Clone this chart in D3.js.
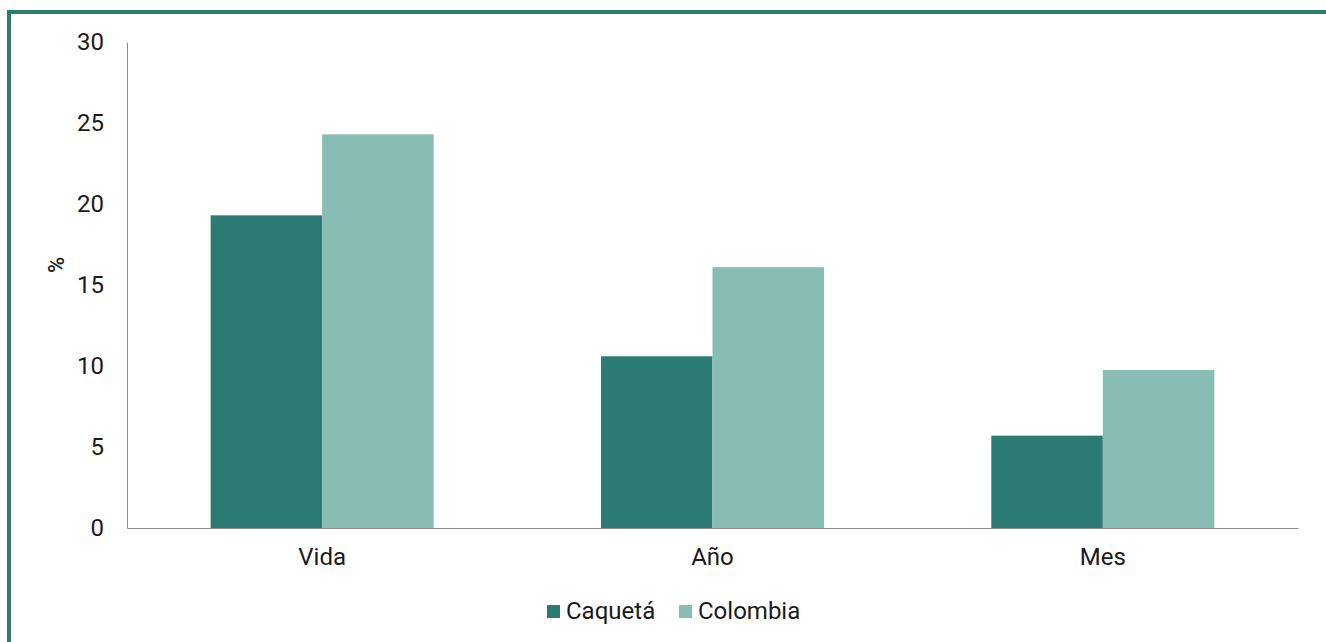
<!DOCTYPE html>
<html lang="es">
<head>
<meta charset="UTF-8">
<title>Caquetá vs Colombia</title>
<script src="https://d3js.org/d3.v7.min.js"></script>
<style>
  body { margin: 0; background: #fff; }
  svg { display: block; font-family: Roboto, "Noto Sans", sans-serif; }
</style>
</head>
<body>
<div id="chart"></div>
<script>
const categories = ["Vida", "Año", "Mes"];
const series = ["Caquetá", "Colombia"];
const caqueta = [19.3, 10.6, 5.7];
const colombia = [24.3, 16.1, 9.75];
const yTicks = [0, 5, 10, 15, 20, 25, 30];
const colors = ["#2c7a74", "#87bdb4"];

const width = 1326, height = 642;
const margin = { top: 42, right: 28, bottom: 114, left: 127 };
const fontSize = 24;

const svg = d3.select("#chart").append("svg")
    .attr("width", width)
    .attr("height", height);

// frame (top + left border)
svg.append("path")
    .attr("d", `M9,${height} V12 H${width}`)
    .attr("fill", "none")
    .attr("stroke", "#2e7b74")
    .attr("stroke-width", 4);

const x = d3.scaleBand()
    .domain(categories)
    .range([margin.left, width - margin.right]);

const xInner = d3.scaleBand()
    .domain(series)
    .range([0, x.bandwidth()])
    .paddingOuter(0.75)
    .paddingInner(0);

const y = d3.scaleLinear()
    .domain([0, 30])
    .range([height - margin.bottom, margin.top]);

const rows = categories.map((c, i) => ({ cat: c, values: [caqueta[i], colombia[i]] }));

const groups = svg.append("g").selectAll("g")
    .data(rows)
    .join("g")
    .attr("transform", d => `translate(${x(d.cat)},0)`);

groups.selectAll("rect")
    .data(d => d.values.map((v, j) => ({ s: series[j], v, j })))
    .join("rect")
    .attr("x", d => xInner(d.s))
    .attr("width", xInner.bandwidth())
    .attr("y", d => y(d.v))
    .attr("height", d => y(0) - y(d.v))
    .attr("fill", d => colors[d.j]);

// y axis
const yAxis = svg.append("g")
    .attr("transform", `translate(${margin.left},0)`)
    .call(d3.axisLeft(y).tickValues(yTicks).tickSize(0).tickPadding(23));
yAxis.select(".domain").attr("stroke", "#8c8c8c");
yAxis.selectAll("text").attr("font-size", fontSize).attr("fill", "#1a1a1a").attr("font-family", "Roboto, sans-serif");

// x axis
const xAxis = svg.append("g")
    .attr("transform", `translate(0,${y(0)})`)
    .call(d3.axisBottom(x).tickSize(0).tickPadding(20));
xAxis.select(".domain").attr("stroke", "#8c8c8c");
xAxis.selectAll("text").attr("font-size", fontSize).attr("fill", "#1a1a1a").attr("font-family", "Roboto, sans-serif");

// y label
svg.append("text")
    .attr("transform", "translate(64,265) rotate(-90)")
    .attr("text-anchor", "middle")
    .attr("font-size", 22)
    .attr("font-weight", 500)
    .attr("fill", "#1a1a1a")
    .text("%");

// legend
const legend = svg.append("g").attr("transform", "translate(547,611)");
const legendX = [0, 132];
series.forEach((s, i) => {
    const g = legend.append("g").attr("transform", `translate(${legendX[i]},0)`);
    g.append("rect").attr("x", 0).attr("y", -6).attr("width", 13).attr("height", 13).attr("fill", colors[i]);
    g.append("text").attr("x", 19).attr("y", 0).attr("dy", "0.35em")
        .attr("font-size", fontSize).attr("fill", "#1a1a1a").text(s);
});
</script>
</body>
</html>
